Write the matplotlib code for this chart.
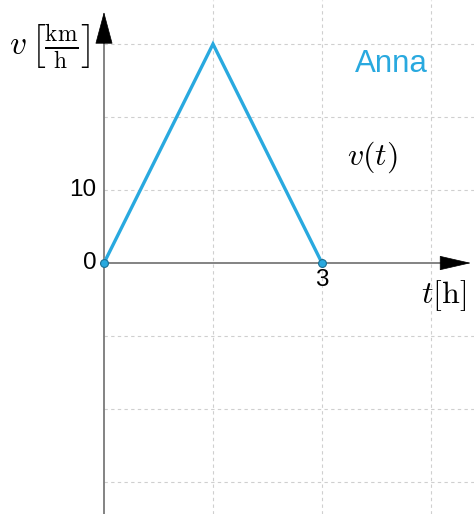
import matplotlib
matplotlib.use('Agg')
import matplotlib.pyplot as plt
from matplotlib.patches import FancyArrowPatch

plt.rcParams['mathtext.fontset'] = 'cm'
plt.rcParams['font.family'] = ['Liberation Sans', 'DejaVu Sans']

# data: Anna's speed over time
t_h = [0, 1.5, 3]
v_kmh = [0, 30, 0]
end_points_t = [0, 3]
end_points_v = [0, 0]
grid_t = [1.5, 3, 4.5]
grid_v = [-30, -20, -10, 10, 20, 30]
tick_v = [0, 10]
tick_t = [3]

blue = '#29a9df'

fig = plt.figure(figsize=(4.74, 5.14), dpi=100)
ax = fig.add_axes([0, 0, 1, 1])
ax.set_xlim(-1.431, 5.092)
ax.set_ylim(-34.38, 36.03)
ax.axis('off')

# dashed grid, only right of the v axis
ax.vlines(grid_t, -34.38, 36.03, colors='#cfcfcf', linestyles=(0, (3, 3)), linewidth=0.8, zorder=1)
ax.hlines(grid_v, 0, 5.092, colors='#cfcfcf', linestyles=(0, (3, 3)), linewidth=0.8, zorder=1)

# axes lines
ax.plot([0, 0], [-34.38, 31], color='#6e6e6e', lw=1.2, zorder=2)
ax.plot([0, 4.7], [0, 0], color='#6e6e6e', lw=1.2, zorder=2)

# arrow heads
ax.add_patch(FancyArrowPatch((0, 30.1), (0, 34.4), arrowstyle='-|>,head_length=21.6,head_width=5.8',
                             mutation_scale=1, color='black', lw=0.5, shrinkA=0, shrinkB=0, zorder=3))
ax.add_patch(FancyArrowPatch((4.64, 0), (5.05, 0), arrowstyle='-|>,head_length=21,head_width=4.8',
                             mutation_scale=1, color='black', lw=0.5, shrinkA=0, shrinkB=0, zorder=3))

# speed graph
ax.plot(t_h, v_kmh, color=blue, lw=2.4, zorder=4, solid_joinstyle='miter')
ax.scatter(end_points_t, end_points_v, s=32, color=blue, edgecolors='#1b6f93', linewidths=0.8, zorder=5)

# tick labels
for v in tick_v:
    ax.text(-0.1, v, str(v), ha='right', va='center', fontsize=17.5)
for t in tick_t:
    ax.text(t, -0.8, str(t), ha='center', va='top', fontsize=17.5)

# labels
ax.text(-0.75, 29.6, r'$v\,\left[\frac{\mathrm{km}}{\mathrm{h}}\right]$', ha='center', va='center', fontsize=24)
ax.text(4.67, -4.5, r'$t[\mathrm{h}]$', ha='center', va='center', fontsize=23)
ax.text(3.7, 14.5, r'$v(t)$', ha='center', va='center', fontsize=23)
ax.text(3.96, 27.3, 'Anna', ha='center', va='center', fontsize=22.5, color=blue)

plt.savefig('out.png', dpi=100)
plt.close()
